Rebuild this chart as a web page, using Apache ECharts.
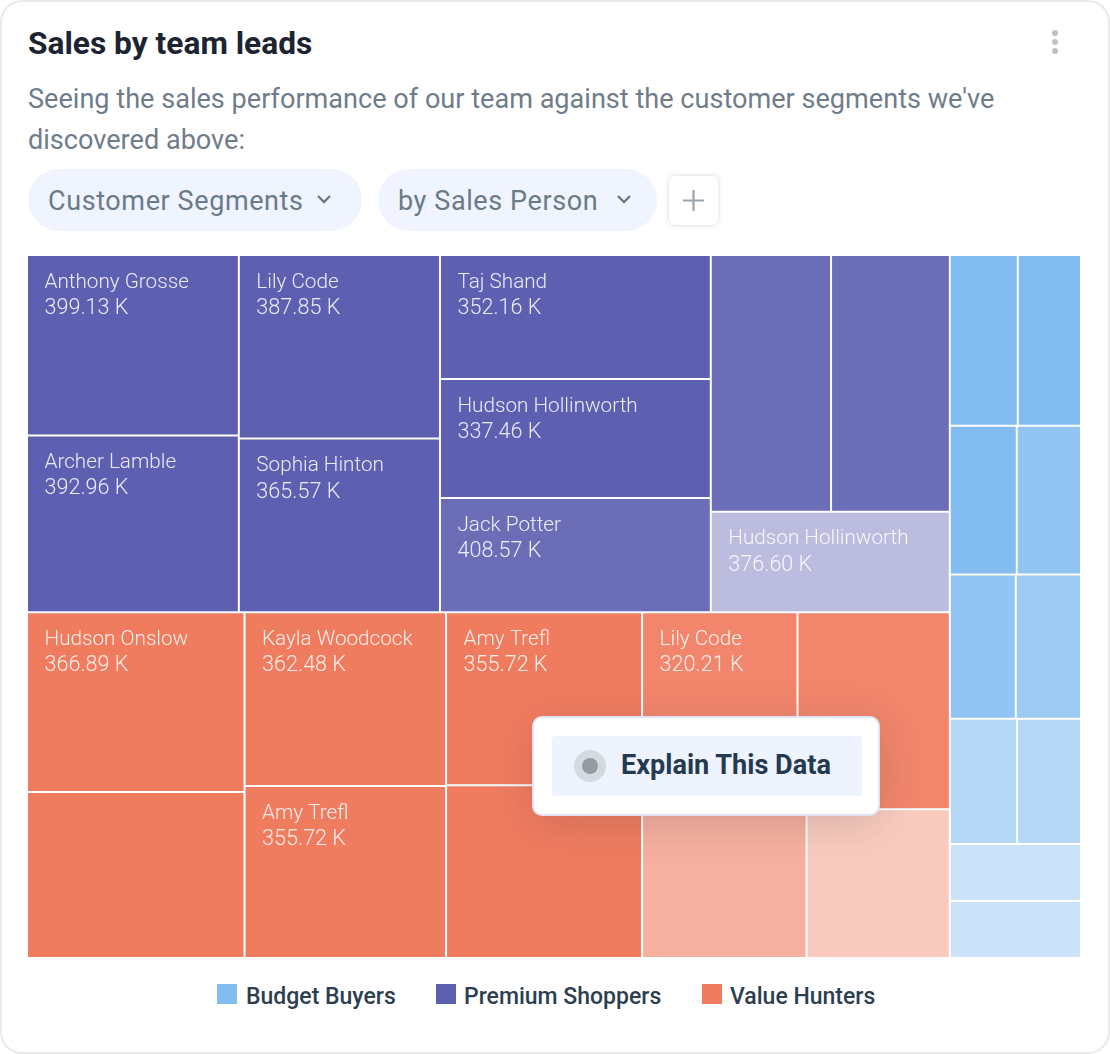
<!DOCTYPE html>
<html>
<head>
<meta charset="utf-8">
<script src="https://cdn.jsdelivr.net/npm/echarts@6/dist/echarts.min.js"></script>
<style>
  html, body { margin: 0; padding: 0; background: #fff; }
  body { width: 1110px; height: 1054px; position: relative; overflow: hidden; font-family: Roboto, sans-serif; }
  .card { position: absolute; left: 0; top: 0; width: 1106px; height: 1050px; border: 2px solid #e9e9e9; border-radius: 22px; }
  .abs { position: absolute; white-space: nowrap; }
  .title { left: 28px; top: 26px; font-size: 31.7px; line-height: 36px; font-weight: 700; color: #1b2430; }
  .sub { left: 28px; top: 79px; width: 1000px; font-size: 27.1px; line-height: 41px; color: #6f7d8b; white-space: normal; }
  .dots { left: 1052px; top: 30px; width: 6px; height: 6px; border-radius: 50%; background: #bcc2c8; box-shadow: 0 9px 0 #bcc2c8, 0 18px 0 #bcc2c8; }
  .pill { top: 169px; height: 62px; border-radius: 31px; background: #eff4fe; }
  .pill span { position: absolute; left: 20px; top: 16px; font-size: 27px; line-height: 32px; font-weight: 400; letter-spacing: 0.6px; color: #6a7a89; }
  .pill svg { position: absolute; top: 24px; width: 16px; height: 12px; }
  .plus { left: 669px; top: 176px; width: 49px; height: 49px; border-radius: 6px; background: #fff; box-shadow: 0 0 5px rgba(40, 60, 90, .22); }
  #chart { position: absolute; left: 27px; top: 255px; width: 1054px; height: 703px; }
  .pop { left: 532px; top: 716px; width: 344px; height: 96px; background: #fff; border: 2px solid #e3e4f3; border-radius: 10px; box-shadow: 0 8px 40px rgba(60, 50, 50, .18); }
  .pop .in { position: absolute; left: 18px; top: 18px; width: 310px; height: 60px; background: #eff3fe; border-radius: 4px; }
  .pop .ring { position: absolute; left: 22px; top: 14px; width: 32px; height: 32px; border-radius: 50%; background: #d5dae1; }
  .pop .dot { position: absolute; left: 8px; top: 8px; width: 16px; height: 16px; border-radius: 50%; background: #949ca3; }
  .pop .txt { position: absolute; left: 69px; top: 12px; font-size: 27.1px; line-height: 34px; font-weight: 700; color: #243a50; white-space: nowrap; }
  .lg-box { top: 984px; width: 20px; height: 20px; }
  .lg-txt { top: 983px; font-size: 23px; line-height: 28px; font-weight: 500; color: #2d3e50; }
</style>
</head>
<body>
<div class="card"></div>
<div class="abs title">Sales by team leads</div>
<div class="abs dots"></div>
<div class="abs sub">Seeing the sales performance of our team against the customer segments we've discovered above:</div>
<div class="abs pill" style="left:28px;width:334px"><span>Customer Segments</span>
  <svg style="left:288px" viewBox="0 0 16 12"><path d="M2 3l6 6 6-6" fill="none" stroke="#6a7a89" stroke-width="2.4"/></svg></div>
<div class="abs pill" style="left:378px;width:279px"><span>by Sales Person</span>
  <svg style="left:238px" viewBox="0 0 16 12"><path d="M2 3l6 6 6-6" fill="none" stroke="#6a7a89" stroke-width="2.4"/></svg></div>
<div class="abs plus"><svg width="49" height="49"><path d="M24.5 14v21M14 24.5h21" stroke="#9aa3ad" stroke-width="2.2"/></svg></div>
<div id="chart"></div>
<div class="abs pop"><div class="in"><div class="ring"><div class="dot"></div></div><div class="txt">Explain This Data</div></div></div>
<div class="abs lg-box" style="left:217px;background:#82bcf0"></div>
<div class="abs lg-txt" style="left:246px">Budget Buyers</div>
<div class="abs lg-box" style="left:436px;background:#5d5fb0"></div>
<div class="abs lg-txt" style="left:464px">Premium Shoppers</div>
<div class="abs lg-box" style="left:702px;background:#f07c60"></div>
<div class="abs lg-txt" style="left:730px">Value Hunters</div>
<script>
"use strict"

const segments = ["Premium Shoppers", "Value Hunters", "Budget Buyers"]
const segmentColors = ["#5d5fb0", "#f07c60", "#82bcf0"]

// cell size in K, read off the tile areas (printed labels do not always agree)
const premiumSizes = [401.7, 393.4, 388, 367, 352.8, 338.6, 325.2, 324.4, 320.2, 252.6]
const premiumNames = ["Anthony Grosse", "Archer Lamble", "Lily Code", "Sophia Hinton", "Taj Shand", "Hudson Hollinworth", "Jack Potter", "", "", "Hudson Hollinworth"]
const premiumLabels = ["399.13 K", "392.96 K", "387.85 K", "365.57 K", "352.16 K", "337.46 K", "408.57 K", "", "", "376.60 K"]
const premiumScores = [100, 100, 100, 100, 100, 100, 91, 91, 91, 41]

const valueSizes = [410.7, 379.3, 367.8, 364.1, 356.2, 355.7, 321.7, 315.3, 256.9, 223.7]
const valueNames = ["Hudson Onslow", "", "Kayla Woodcock", "Amy Trefl", "Amy Trefl", "", "Lily Code", "", "", ""]
const valueLabels = ["366.89 K", "", "362.48 K", "355.72 K", "355.72 K", "", "320.21 K", "", "", ""]
const valueScores = [100, 100, 100, 100, 100, 100, 92, 92, 60, 40]

const budgetSizes = [121.9, 113.4, 104.7, 100.5, 99.9, 98.8, 88.4, 84.1, 78.6, 78.6]
const budgetNames = ["", "", "", "", "", "", "", "", "", ""]
const budgetLabels = ["", "", "", "", "", "", "", "", "", ""]
const budgetScores = [100, 100, 100, 88, 88, 79, 60, 58, 42, 42]

const buildCells = (sizes, names, labels, scores) =>
  sizes.map((size, i) => ({
    name: names[i],
    value: [size, scores[i]],
    shown: labels[i],
    label: { show: names[i] !== "" },
  }))

const seriesData = [
  [premiumSizes, premiumNames, premiumLabels, premiumScores],
  [valueSizes, valueNames, valueLabels, valueScores],
  [budgetSizes, budgetNames, budgetLabels, budgetScores],
].map((cols, i) => ({
  name: segments[i],
  itemStyle: { color: segmentColors[i] },
  children: buildCells(...cols),
}))

const labelColor = "rgba(255,255,255,0.88)"

const myChart = echarts.init(document.getElementById("chart"))

myChart.setOption({
  animation: false,
  tooltip: { show: false },
  series: [
    {
      type: "treemap",
      left: 0,
      top: 0,
      right: 0,
      bottom: 0,
      roam: false,
      nodeClick: false,
      breadcrumb: { show: false },
      label: {
        show: true,
        position: [11.5, 8.5],
        fontFamily: "Roboto",
        fontWeight: 300,
        color: labelColor,
        formatter: (p) => "{n|" + p.name + "}\n{v|" + p.data.shown + "}",
        rich: {
          n: { fontFamily: "Roboto", fontWeight: 300, fontSize: 20.7, lineHeight: 26, color: labelColor },
          v: { fontFamily: "Roboto", fontWeight: 300, fontSize: 21.6, lineHeight: 26, color: labelColor },
        },
      },
      levels: [
        { itemStyle: { borderWidth: 0, gapWidth: 0 } },
        {
          itemStyle: { borderWidth: 0, gapWidth: 0 },
          visualDimension: 1,
          visualMin: 0,
          visualMax: 100,
          colorAlpha: [0, 1],
          colorMappingBy: "value",
        },
        { itemStyle: { borderWidth: 1, borderColor: "#fff", gapWidth: 0 } },
      ],
      data: seriesData,
    },
  ],
})
</script>
</body>
</html>
